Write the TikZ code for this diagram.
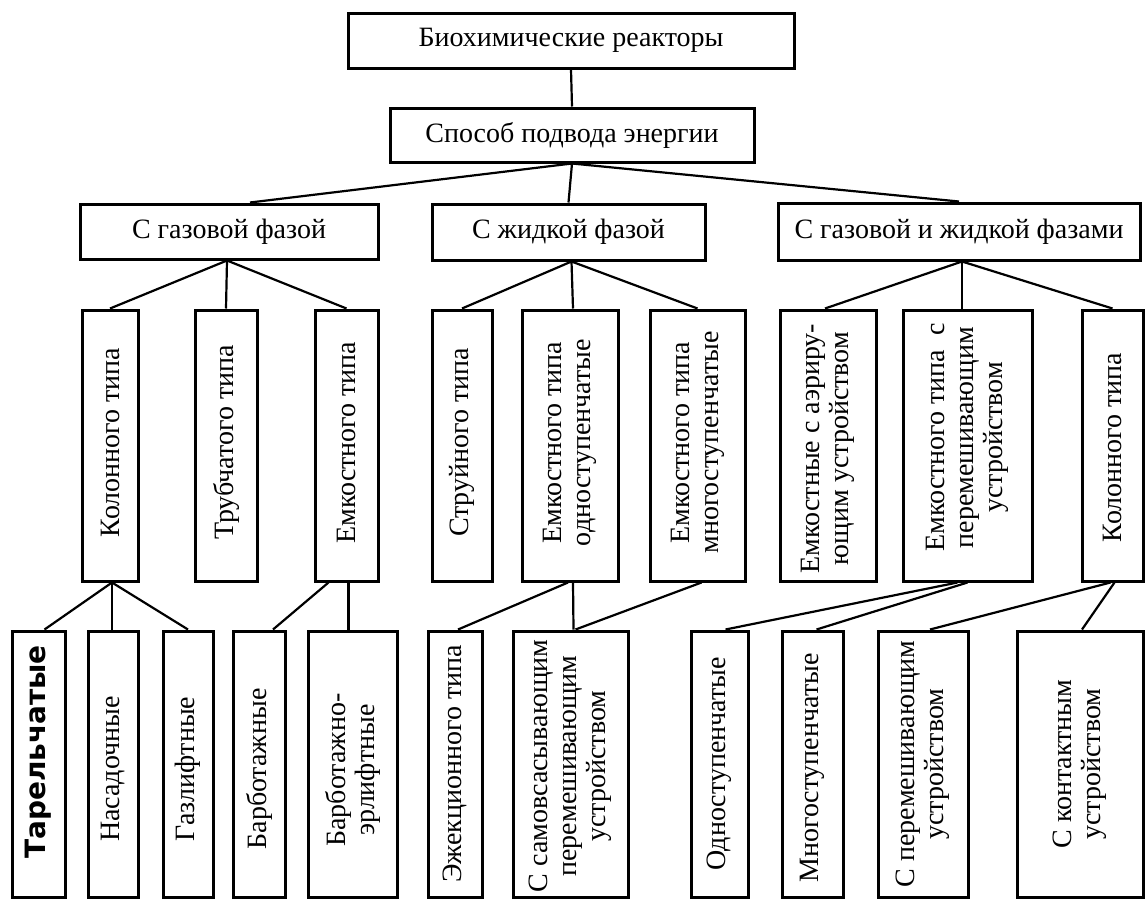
\documentclass[tikz,border=0pt]{standalone}
\usepackage{fontspec}
\setmainfont{Liberation Serif}
\newfontfamily\tarfont{DejaVu Sans}
\usetikzlibrary{fit}
\tikzset{
  box/.style={draw, line width=1.5pt, inner sep=0pt},
  lab/.style={font=\fontsize{14}{14.5}\selectfont, align=center, inner sep=0pt},
  vlab/.style={lab, rotate=90},
  conn/.style={line width=1.1pt},
}
\begin{document}
\begin{tikzpicture}[x=0.5pt,y=-0.5pt]
\useasboundingbox (0,0) rectangle (1146,901);
% level 0, 1
\node[box, fit={(348,13) (794,68)}] (top) {};
\node[box, fit={(390,108) (754,162)}] (spo) {};
% level 2
\node[box, fit={(80,204) (378,259)}] (gas) {};
\node[box, fit={(432,204) (705,260)}] (liq) {};
\node[box, fit={(778,203) (1140,260)}] (gl) {};
% level 3
\node[box, fit={(82,310) (138,581)}] (g1) {};
\node[box, fit={(195,310) (257,581)}] (g2) {};
\node[box, fit={(315,310) (378,581)}] (g3) {};
\node[box, fit={(432,310) (492,581)}] (l1) {};
\node[box, fit={(522,310) (618,581)}] (l2) {};
\node[box, fit={(650,310) (745,581)}] (l3) {};
\node[box, fit={(780,310) (876,581)}] (r1) {};
\node[box, fit={(903,310) (1032,581)}] (r2) {};
\node[box, fit={(1082,310) (1143,581)}] (r3) {};
% level 4
\node[box, fit={(12,631) (65,897)}] (a1) {};
\node[box, fit={(88,631) (138,897)}] (a2) {};
\node[box, fit={(163,631) (213,897)}] (a3) {};
\node[box, fit={(233,631) (285,897)}] (a4) {};
\node[box, fit={(308,631) (397,897)}] (a5) {};
\node[box, fit={(428,631) (482,897)}] (b1) {};
\node[box, fit={(513,631) (628,897)}] (b2) {};
\node[box, fit={(691,631) (748,897)}] (c1) {};
\node[box, fit={(782,631) (843,897)}] (c2) {};
\node[box, fit={(878,631) (968,897)}] (c3) {};
\node[box, fit={(1017,631) (1143,897)}] (c4) {};
% labels
\node[lab] (ttop) at (top) {Биохимические реакторы};
\node[lab] (tspo) at (spo) {Способ подвода энергии};
\node[lab] (tgas) at (gas) {С газовой фазой};
\node[lab] (tliq) at (liq) {С жидкой фазой};
\node[lab] (tgl) at (gl) {С газовой и жидкой фазами};
\node[vlab] (tg1) at ([yshift=1.5pt]g1.center) {Колонного типа};
\node[vlab] (tg2) at ([yshift=1.5pt]g2.center) {Трубчатого типа};
\node[vlab] (tg3) at ([yshift=1.5pt]g3.center) {Емкостного типа};
\node[vlab] (tl1) at ([yshift=1.5pt]l1.center) {Струйного типа};
\node[vlab] (tl2) at ([yshift=1.5pt]l2.center) {Емкостного типа\\одноступенчатые};
\node[vlab] (tl3) at ([yshift=1.5pt]l3.center) {Емкостного типа\\многоступенчатые};
\node[vlab] (tr1) at ([yshift=-1.5pt]r1.center) {Емкостные с аэриру-\\ющим устройством};
\node[vlab] (tr2) at ([yshift=4pt]r2.center) {Емкостного типа \ с\\перемешивающим\\устройством};
\node[vlab] (tr3) at ([yshift=-1pt]r3.center) {Колонного типа};
\node[vlab, font=\tarfont\bfseries\fontsize{14}{14}\selectfont] (ta1) at ([yshift=6pt]a1.center) {Тарельчатые};
\node[vlab] (ta2) at ([yshift=-2.5pt]a2.center) {Насадочные};
\node[vlab] (ta3) at ([yshift=-2.5pt]a3.center) {Газлифтные};
\node[vlab] (ta4) at ([yshift=-2.5pt]a4.center) {Барботажные};
\node[vlab] (ta5) at ([yshift=-3pt]a5.center) {Барботажно-\\эрлифтные};
\node[vlab] (tb1) at (b1.center) {Эжекционного типа};
\node[vlab] (tb2) at ([yshift=-1pt]b2.center) {С самовсасывающим\\перемешивающим\\устройством};
\node[vlab] (tc1) at (c1.center) {Одноступенчатые};
\node[vlab] (tc2) at ([yshift=-2pt]c2.center) {Многоступенчатые};
\node[vlab] (tc3) at (c3.center) {С перемешивающим\\устройством};
\node[vlab] (tc4) at (c4.center) {С контактным\\устройством};
% connectors
\draw[conn] (top.south) -- (spo.north);
\draw[conn] (spo.south) -- ([xshift=10.5pt]gas.north);
\draw[conn] (spo.south) -- (liq.north);
\draw[conn] (spo.south) -- (gl.north);
\draw[conn] ([xshift=-1pt]gas.south) -- (g1.north);
\draw[conn] ([xshift=-1pt]gas.south) -- (g2.north);
\draw[conn] ([xshift=-1pt]gas.south) -- (g3.north);
\draw[conn] ([xshift=1.5pt]liq.south) -- (l1.north);
\draw[conn] ([xshift=1.5pt]liq.south) -- ([xshift=1.5pt]l2.north);
\draw[conn] ([xshift=1.5pt]liq.south) -- (l3.north);
\draw[conn] ([xshift=1.5pt]gl.south) -- ([xshift=-1.5pt]r1.north);
\draw[conn] ([xshift=1.5pt]gl.south) -- ([xshift=-2.75pt]r2.north);
\draw[conn] ([xshift=1.5pt]gl.south) -- (r3.north);
\draw[conn] ([xshift=1pt]g1.south) -- ([xshift=3pt]a1.north);
\draw[conn] ([xshift=1pt]g1.south) -- ([xshift=-0.5pt]a2.north);
\draw[conn] ([xshift=1pt]g1.south) -- (a3.north);
\draw[conn] ([xshift=-9pt]g3.south) -- ([xshift=7pt]a4.north);
\draw[conn] ([xshift=1pt]g3.south) -- ([xshift=1pt]g3.south |- a5.north);
\draw[conn] ([xshift=-1pt]l2.south) -- ([xshift=1.5pt]b1.north);
\draw[conn] ([xshift=1.5pt]l2.south) -- ([xshift=1.5pt]b2.north);
\draw[conn] ([xshift=2pt]l3.south) -- ([xshift=2.5pt]b2.north);
\draw[conn] ([xshift=-5pt]r2.south) -- ([xshift=3pt]c1.north);
\draw[conn] (r2.south) -- ([xshift=2pt]c2.north);
\draw[conn] ([xshift=-1pt]r3.south) -- ([xshift=3.5pt]c3.north);
\draw[conn] ([xshift=1pt]r3.south) -- ([xshift=1pt]c4.north);
\end{tikzpicture}
\end{document}
